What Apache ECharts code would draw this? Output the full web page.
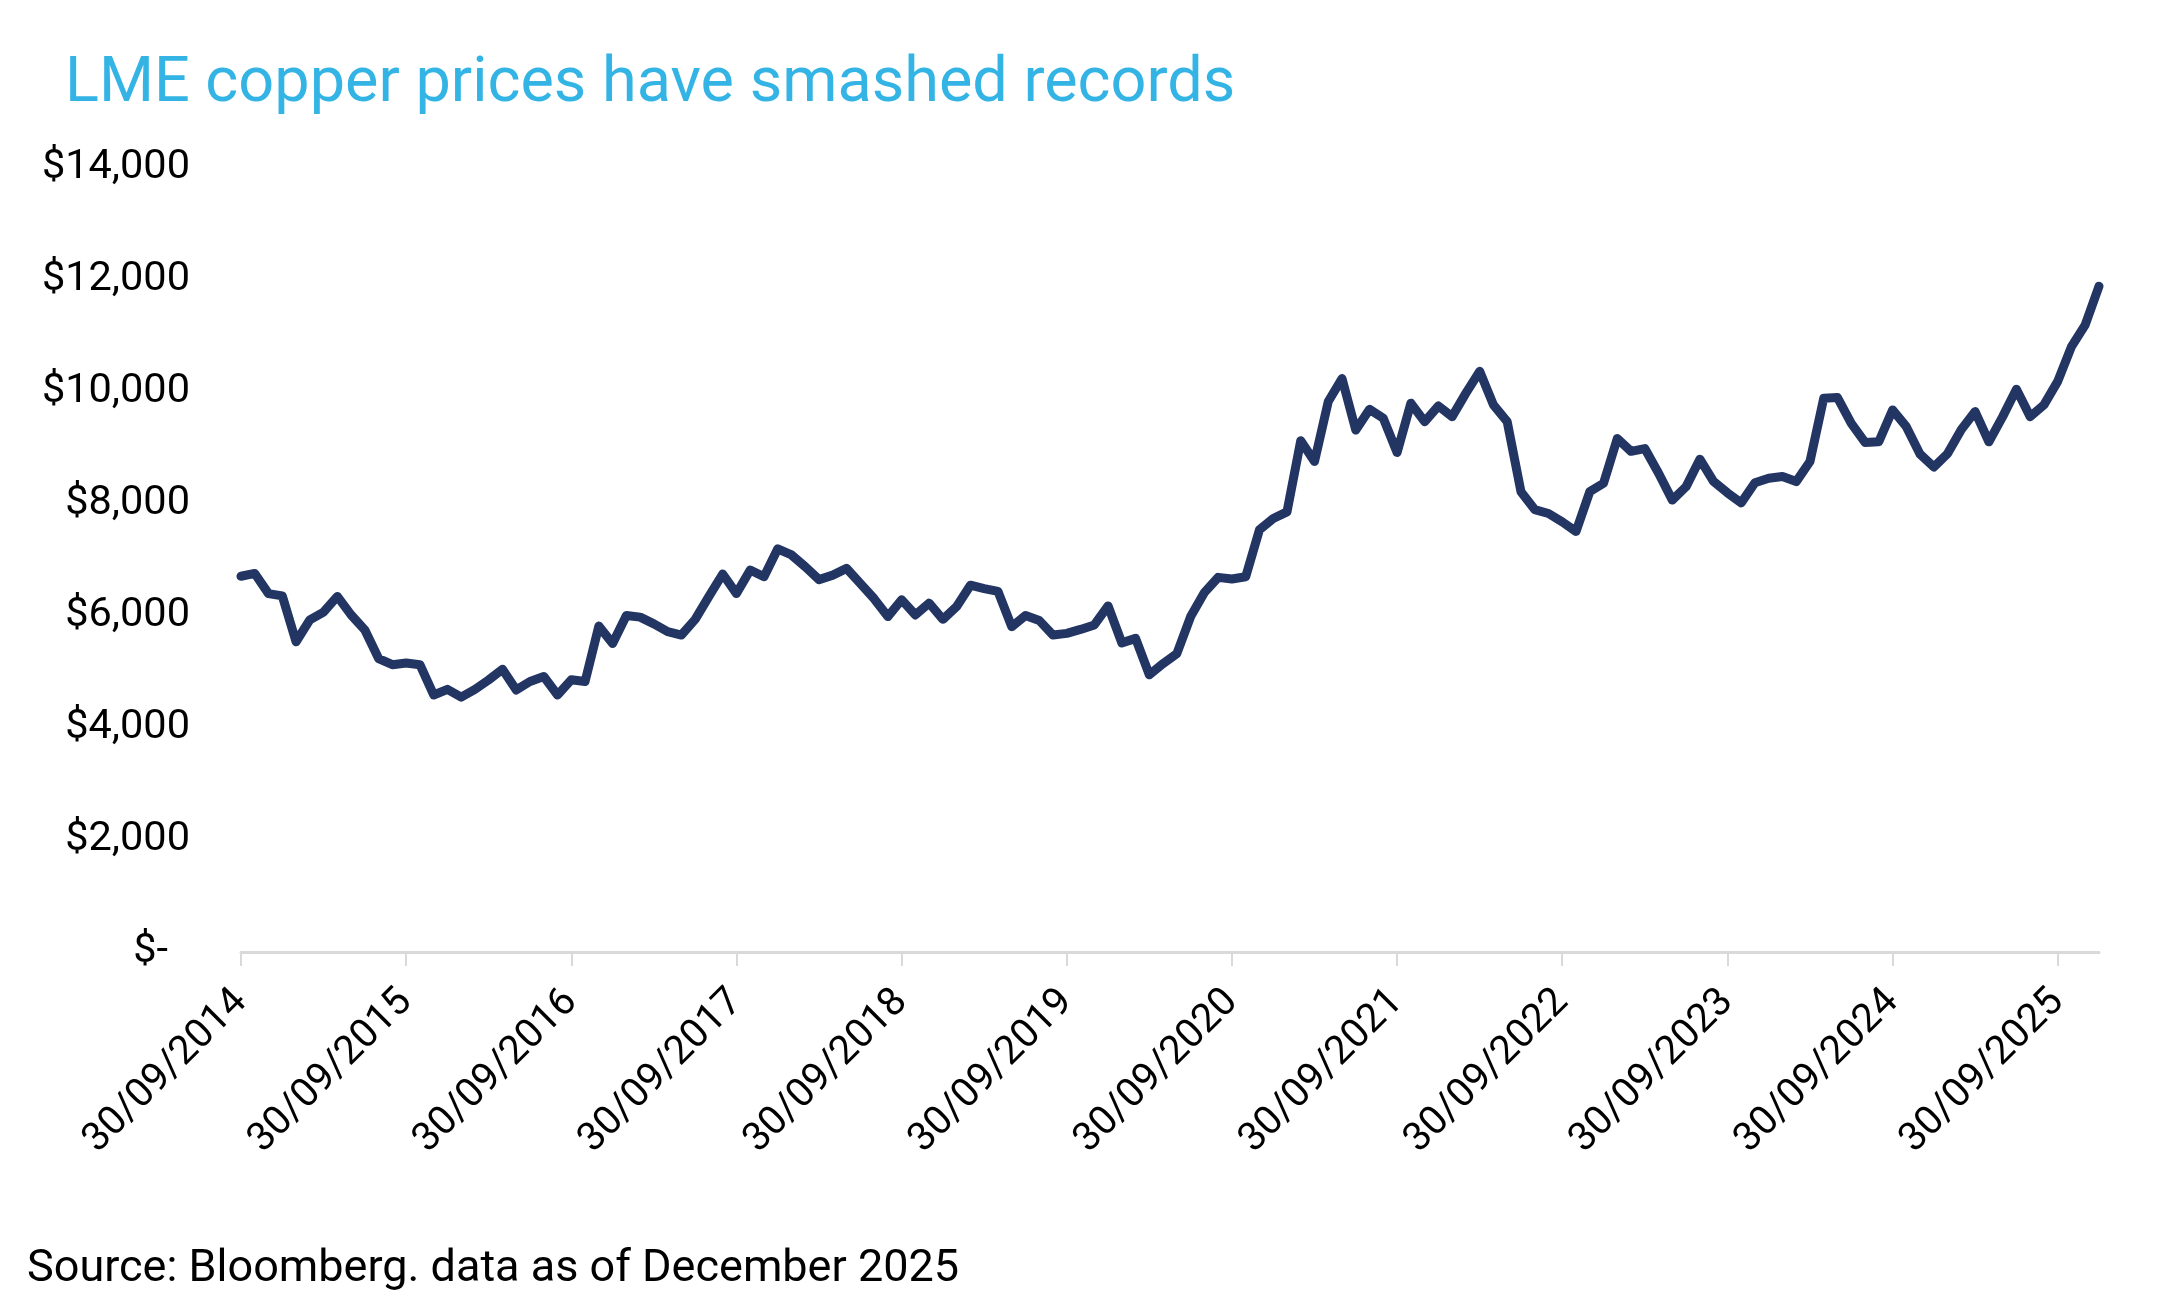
<!DOCTYPE html>
<html>
<head>
<meta charset="utf-8">
<title>LME copper prices</title>
<script src="https://cdn.jsdelivr.net/npm/echarts@6/dist/echarts.min.js"></script>
<style>
    html, body { margin: 0; padding: 0; background: #fff; }
    #chart { width: 2183px; height: 1299px; }
</style>
</head>
<body>
<div id="chart"></div>
<script>
// Monthly LME copper price (USD/t), Sep 2014 -> Dec 2025
const startYear = 2014;
const startMonth = 9;
const prices = [
    6710, 6760, 6400, 6360, 5540, 5930, 6070, 6350, 6020, 5750, 5240, 5130,
    5160, 5130, 4590, 4690, 4550, 4690, 4860, 5050, 4680, 4830, 4920, 4590,
    4860, 4830, 5820, 5510, 6010, 5980, 5860, 5720, 5660, 5940, 6350, 6750,
    6400, 6820, 6700, 7200, 7090, 6880, 6650, 6730, 6850, 6580, 6310, 5990,
    6290, 6020, 6230, 5940, 6170, 6550, 6490, 6440, 5810, 6010, 5920, 5660,
    5690, 5760, 5840, 6180, 5520, 5600, 4950, 5150, 5330, 5990, 6420, 6690,
    6660, 6700, 7540, 7740, 7860, 9130, 8760, 9830, 10240, 9320, 9690, 9530,
    8920, 9800, 9470, 9750, 9560, 9980, 10370, 9770, 9470, 8220, 7900, 7830,
    7680, 7510, 8220, 8370, 9170, 8940, 8990, 8550, 8070, 8310, 8800, 8400,
    8200, 8020, 8380, 8460, 8490, 8400, 8760, 9890, 9900, 9440, 9100, 9110,
    9680, 9380, 8890, 8660, 8900, 9330, 9650, 9110, 9560, 10050, 9560, 9770,
    10190, 10810, 11200, 11890
];

// Month-end date labels, dd/mm/yyyy
const dates = [];
for (let i = 0; i < prices.length; i++) {
    const y = startYear + Math.floor((startMonth - 1 + i) / 12);
    const m = (startMonth - 1 + i) % 12 + 1;
    const last = new Date(y, m, 0).getDate();
    dates.push(`${String(last).padStart(2, '0')}/${String(m).padStart(2, '0')}/${y}`);
}

const titleText = 'LME copper prices have smashed records';
const sourceText = 'Source: Bloomberg. data as of December 2025';
const yTicks = { min: 0, max: 14000, interval: 2000 };

const fontFamily = 'Roboto, "Liberation Sans", Arial, sans-serif';
const yearTick = index => index % 12 === 0;

const chart = echarts.init(document.getElementById('chart'));

chart.setOption({
    animation: false,
    backgroundColor: '#ffffff',
    textStyle: { fontFamily: fontFamily },
    title: {
        text: titleText,
        left: 60,
        top: 49,
        textStyle: {
            color: '#33b4e4',
            fontSize: 63,
            fontWeight: 'normal',
            fontFamily: fontFamily
        }
    },
    graphic: [{
        type: 'text',
        left: 27,
        top: 1247,
        style: {
            text: sourceText,
            fill: '#000000',
            fontSize: 45,
            fontFamily: fontFamily
        }
    }],
    grid: {
        left: 241,
        right: 84,
        top: 168,
        bottom: 347,
        containLabel: false
    },
    xAxis: {
        type: 'category',
        data: dates,
        boundaryGap: false,
        axisLine: {
            lineStyle: { color: '#d9d9d9', width: 3 }
        },
        axisTick: {
            show: true,
            interval: yearTick,
            length: 14,
            lineStyle: { color: '#d9d9d9', width: 2 }
        },
        axisLabel: {
            interval: yearTick,
            rotate: 45,
            margin: 44,
            fontSize: 40,
            color: '#000000'
        },
        splitLine: { show: false }
    },
    yAxis: {
        type: 'value',
        min: yTicks.min,
        max: yTicks.max,
        interval: yTicks.interval,
        axisLine: { show: false },
        axisTick: { show: false },
        splitLine: { show: false },
        axisLabel: {
            margin: 51,
            fontSize: 41.5,
            color: '#000000',
            formatter: function (v) {
                if (v === 0) return '{z|$-}';
                return '$' + v.toLocaleString('en-US');
            },
            rich: {
                z: { fontSize: 41.5, color: '#000000', padding: [0, 22, 0, 0] }
            }
        }
    },
    series: [{
        name: 'LME copper',
        type: 'line',
        data: prices,
        showSymbol: false,
        lineStyle: {
            color: '#223563',
            width: 9,
            cap: 'round',
            join: 'round'
        }
    }]
});
</script>
</body>
</html>
